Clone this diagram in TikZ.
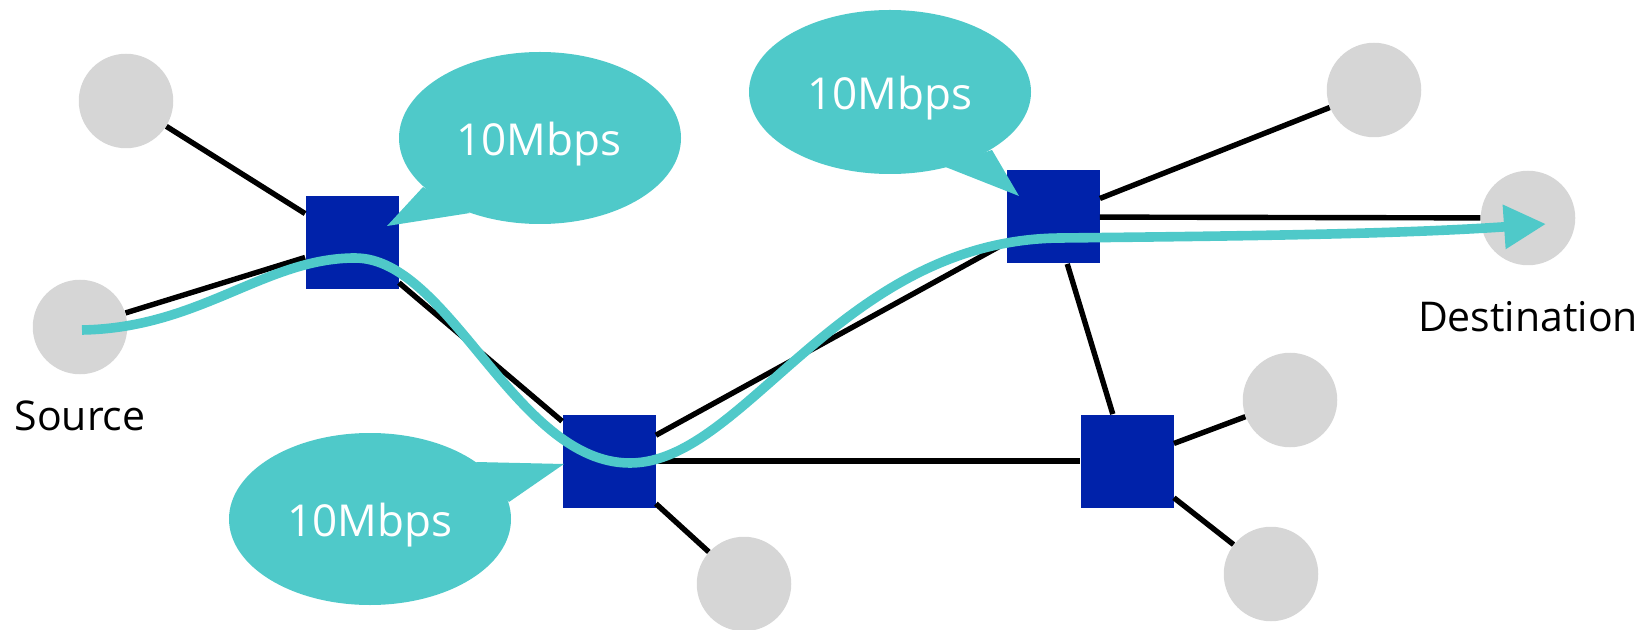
\documentclass[tikz,border=0pt]{standalone}
\usepackage{fontspec}
\setmainfont{Open Sans}
\usetikzlibrary{arrows.meta,shapes.geometric}
\definecolor{teal}{RGB}{79,201,201}
\definecolor{sw}{RGB}{0,34,170}
\definecolor{host}{RGB}{214,214,214}
\tikzset{
  hostnode/.style={circle,fill=host,minimum size=47.25pt,inner sep=0pt},
  swnode/.style={rectangle,fill=sw,minimum size=46.5pt,inner sep=0pt},
  link/.style={line width=2.7pt,black},
  bubble/.style={ellipse,fill=teal,inner sep=0pt},
  bubbletext/.style={text=white,font=\fontsize{22}{26}\selectfont},
  lbl/.style={font=\fontsize{20.5}{24}\selectfont,text=black},
  flow/.style={line width=4.8pt,teal,-{Triangle[length=21pt,width=21pt]}}
}
\begin{document}
\begin{tikzpicture}[x=0.5pt,y=-0.5pt]
\useasboundingbox (0,0) rectangle (1647,630);
% hosts
\node[hostnode] (h1) at (126,101) {};
\node[hostnode] (src) at (80,327) {};
\node[hostnode] (h3) at (744,584) {};
\node[hostnode] (h4) at (1374,90) {};
\node[hostnode] (dst) at (1528,218) {};
\node[hostnode] (h6) at (1290,400) {};
\node[hostnode] (h7) at (1271,574) {};
% switches
\node[swnode] (s1) at (352,243) {};
\node[swnode] (s2) at (609,461) {};
\node[swnode] (s3) at (1053,217) {};
\node[swnode] (s4) at (1127,461) {};
% links
\draw[link] (h1) -- (s1);
\draw[link] (src) -- (s1);
\draw[link] (s1) -- (s2);
\draw[link] (s2) -- (h3);
\draw[link] (s2) -- (s3);
\draw[link] (s2) -- (s4);
\draw[link] (s3) -- (h4);
\draw[link] (s3) -- (dst);
\draw[link] (s3) -- (s4);
\draw[link] (s4) -- (h6);
\draw[link] (s4) -- (h7);
% labels
\node[lbl] (srcl) at (80,416) {Source};
\node[lbl] (dstl) at (1528,317) {Destination};
% callouts
\node[bubble,minimum width=141pt,minimum height=86pt] (b1) at (540,138) {};
\fill[teal] (423,187) -- (387,226) -- (470,213) -- cycle;
\node[bubbletext] (t1) at (539,144) {10Mbps};
\node[bubble,minimum width=141pt,minimum height=82pt] (b2) at (890,92) {};
\fill[teal] (943,166) -- (1019,196) -- (992,150) -- cycle;
\node[bubbletext] (t2) at (890,98) {10Mbps};
\node[bubble,minimum width=141pt,minimum height=86pt] (b3) at (370,519) {};
\fill[teal] (476,462) -- (564,464) -- (509,502) -- cycle;
\node[bubbletext] (t3) at (370,525) {10Mbps};
% flow
\coordinate (f0) at (82,330);
\coordinate (f1) at (355,258);
\coordinate (f2) at (630,463);
\coordinate (f3) at (1060,238);
\coordinate (f4) at (1546,224);
\draw[flow] (f0) .. controls (200,328) and (265,258) .. (f1)
  .. controls (450,258) and (515,463) .. (f2)
  .. controls (745,463) and (840,240) .. (f3)
  .. controls (1250,236) and (1400,234) .. (f4);
\end{tikzpicture}
\end{document}
